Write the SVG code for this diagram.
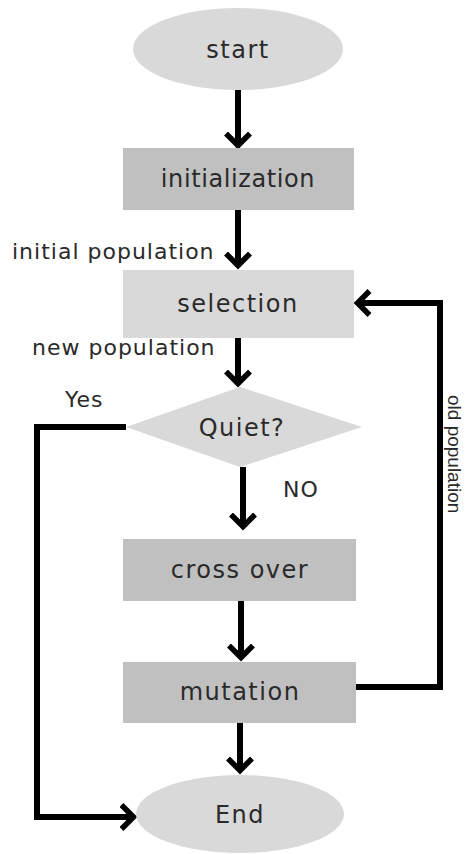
<svg xmlns="http://www.w3.org/2000/svg" width="466" height="854" viewBox="0 0 466 854">
  <style>
    .light { fill: #d9d9d9; }
    .dark { fill: #c0c0c0; }
    .ntext { font-family: "DejaVu Sans", "Noto Sans", sans-serif; font-size: 24px; letter-spacing: 1.5px; fill: #2a2a2a; text-anchor: middle; }
    .label { font-family: "DejaVu Sans", "Noto Sans", sans-serif; font-size: 22px; letter-spacing: 1px; fill: #2a2a2a; }
    .vlabel { font-family: "Liberation Sans", Arial, sans-serif; font-size: 19px; fill: #2a2a2a; }
    .conn { fill: none; stroke: #000; stroke-width: 6; stroke-linejoin: miter; }
  </style>
  <defs>
    <marker id="arrow" markerUnits="userSpaceOnUse" viewBox="0 0 20 28" markerWidth="20" markerHeight="28" refX="13.5" refY="14" orient="auto">
      <path d="M2,2 L14,14 L2,26" fill="none" stroke="#000" stroke-width="5.5"/>
    </marker>
  </defs>
  <rect width="466" height="854" fill="#fff"/>

  <g id="connectors">
    <path class="conn" d="M238,90 V145" marker-end="url(#arrow)"/>
    <path class="conn" d="M238,210 V265" marker-end="url(#arrow)"/>
    <path class="conn" d="M238,338 V383" marker-end="url(#arrow)"/>
    <path class="conn" d="M243,467 V526" marker-end="url(#arrow)"/>
    <path class="conn" d="M241,601 V657" marker-end="url(#arrow)"/>
    <path class="conn" d="M240,723 V770" marker-end="url(#arrow)"/>
    <path class="conn" d="M126,427 H37 V817 H133" marker-end="url(#arrow)"/>
    <path class="conn" d="M356,687 H440 V303 H358" marker-end="url(#arrow)"/>
  </g>

  <g id="labels">
    <text class="label" x="12" y="259">initial population</text>
    <text class="label" x="32" y="355">new population</text>
    <text class="label" x="65" y="407">Yes</text>
    <text class="label" x="283" y="497">NO</text>
    <text class="vlabel" transform="translate(448,395) rotate(90)">old population</text>
  </g>

  <g id="start">
    <ellipse class="light" cx="238" cy="49" rx="105" ry="41"/>
    <text class="ntext" x="238" y="58">start</text>
  </g>
  <g id="initialization">
    <rect class="dark" x="123" y="148" width="231" height="62"/>
    <text class="ntext" x="238" y="187" style="letter-spacing:0.6px">initialization</text>
  </g>
  <g id="selection">
    <rect class="light" x="123" y="270" width="231" height="68"/>
    <text class="ntext" x="238" y="312">selection</text>
  </g>
  <g id="quiet">
    <polygon class="light" points="240,387 362,427 240,467 126,427"/>
    <text class="ntext" x="242" y="436">Quiet?</text>
  </g>
  <g id="crossover">
    <rect class="dark" x="123" y="539" width="233" height="62"/>
    <text class="ntext" x="240" y="578">cross over</text>
  </g>
  <g id="mutation">
    <rect class="dark" x="123" y="662" width="233" height="61"/>
    <text class="ntext" x="240" y="700">mutation</text>
  </g>
  <g id="end">
    <ellipse class="light" cx="240" cy="814" rx="104" ry="39"/>
    <text class="ntext" x="240" y="823">End</text>
  </g>
</svg>
